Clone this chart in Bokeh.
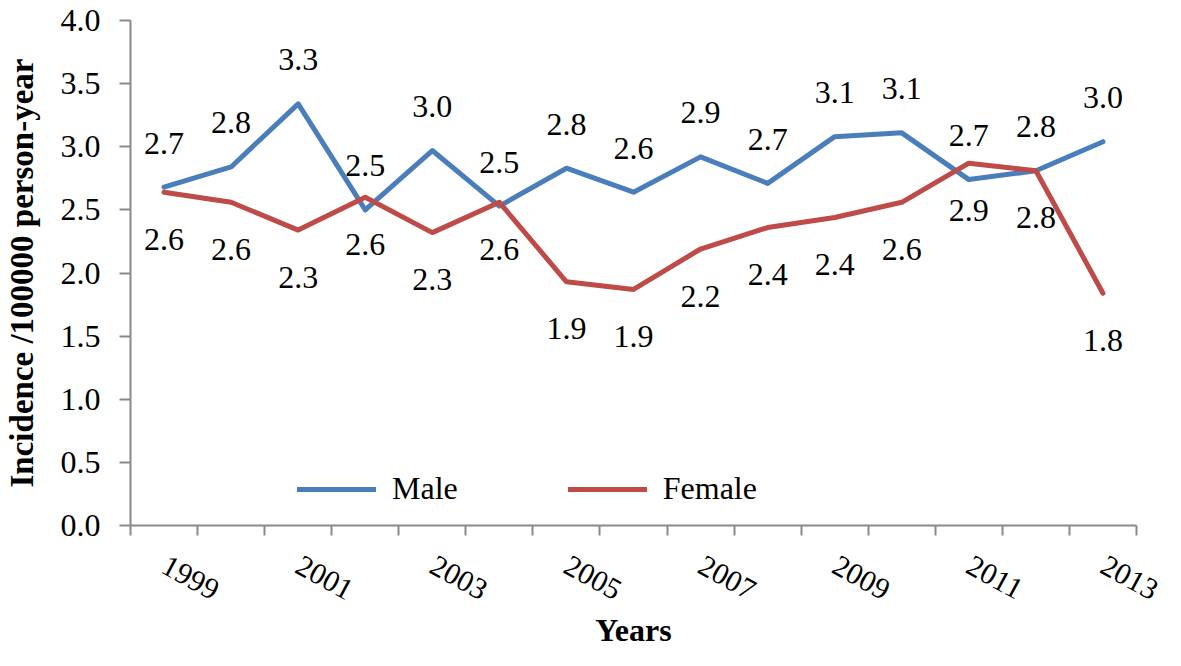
from bokeh.plotting import figure
from bokeh.models import Range1d, FixedTicker, NumeralTickFormatter, Legend, LegendItem, ColumnDataSource
from bokeh.embed import file_html
from bokeh.resources import INLINE
from bokeh.core.properties import value

# ---- data ----
years = [1999, 2000, 2001, 2002, 2003, 2004, 2005, 2006, 2007, 2008, 2009, 2010, 2011, 2012, 2013]
male = [2.68, 2.84, 3.34, 2.50, 2.97, 2.53, 2.83, 2.64, 2.92, 2.71, 3.08, 3.11, 2.74, 2.81, 3.04]
female = [2.64, 2.56, 2.34, 2.60, 2.32, 2.56, 1.93, 1.87, 2.19, 2.36, 2.44, 2.56, 2.87, 2.81, 1.84]
labeled_years = [1999, 2001, 2003, 2005, 2007, 2009, 2011, 2013]
y_ticks = [0.0, 0.5, 1.0, 1.5, 2.0, 2.5, 3.0, 3.5, 4.0]
series_names = ["Male", "Female"]
x_title = "Years"
y_title = "Incidence /100000 person-year"

BLUE = "#4A7EBB"
RED = "#BE4B48"
AXIS = "#898989"
FONT = "Liberation Serif"

p = figure(width=1165, height=650, output_backend="svg", toolbar_location=None,
           x_range=Range1d(years[0] - 0.5, years[-1] + 0.5), y_range=Range1d(y_ticks[0], y_ticks[-1]),
           min_border_left=128, min_border_right=29, min_border_top=20, min_border_bottom=125)
p.outline_line_color = None
p.xgrid.visible = False
p.ygrid.visible = False
p.background_fill_color = "white"
p.border_fill_color = "white"

male_r = p.line(years, male, line_color=BLUE, line_width=5, line_join="round", line_cap="round")
female_r = p.line(years, female, line_color=RED, line_width=5, line_join="round", line_cap="round")

# data labels
src_m = ColumnDataSource(dict(x=years, y=male, t=[f"{v:.1f}" for v in male]))
src_f = ColumnDataSource(dict(x=years, y=female, t=[f"{v:.1f}" for v in female]))
p.text(x="x", y="y", text="t", source=src_m, text_align="center", text_baseline="alphabetic",
       y_offset=-44, text_font=value(FONT), text_font_size="32px", text_color="black")
p.text(x="x", y="y", text="t", source=src_f, text_align="center", text_baseline="alphabetic",
       y_offset=47, text_font=value(FONT), text_font_size="32px", text_color="black")

# x axis
xa = p.xaxis[0]
xa.ticker = FixedTicker(ticks=labeled_years, minor_ticks=[y - 0.5 for y in years] + [years[-1] + 0.5])
xa.major_tick_out = 0
xa.major_tick_in = 0
xa.minor_tick_out = 10
xa.minor_tick_in = 0
xa.minor_tick_line_color = AXIS
xa.minor_tick_line_width = 2
xa.axis_line_color = AXIS
xa.axis_line_width = 2
xa.major_label_orientation = -0.5
xa.major_label_standoff = 28
xa.major_label_text_font = FONT
xa.major_label_text_font_size = "30px"
xa.major_label_text_color = "black"
xa.axis_label = x_title
xa.axis_label_text_font = FONT
xa.axis_label_text_font_style = "bold"
xa.axis_label_text_font_size = "32px"
xa.axis_label_text_color = "black"
xa.axis_label_standoff = 0

# y axis
ya = p.yaxis[0]
ya.ticker = FixedTicker(ticks=y_ticks)
ya.formatter = NumeralTickFormatter(format="0.0")
ya.major_tick_out = 11
ya.major_tick_in = 0
ya.minor_tick_out = 0
ya.minor_tick_in = 0
ya.minor_tick_line_color = None
ya.major_tick_line_color = AXIS
ya.major_tick_line_width = 2
ya.axis_line_color = AXIS
ya.axis_line_width = 2
ya.major_label_standoff = 19
ya.major_label_text_font = FONT
ya.major_label_text_font_size = "32px"
ya.major_label_text_color = "black"
ya.axis_label = y_title
ya.axis_label_text_font = FONT
ya.axis_label_text_font_style = "bold"
ya.axis_label_text_font_size = "33px"
ya.axis_label_text_color = "black"
ya.axis_label_standoff = 18

legend = Legend(items=[LegendItem(label=series_names[0], renderers=[male_r]),
                       LegendItem(label=series_names[1], renderers=[female_r])],
                orientation="horizontal", location=(167, 18), glyph_width=79, glyph_height=20,
                label_standoff=16, spacing=110, padding=0, margin=0,
                border_line_color=None, background_fill_alpha=0,
                label_text_font=FONT, label_text_font_size="32px", label_text_color="black")
p.add_layout(legend)

open("out.html", "w").write(file_html(p, INLINE))
